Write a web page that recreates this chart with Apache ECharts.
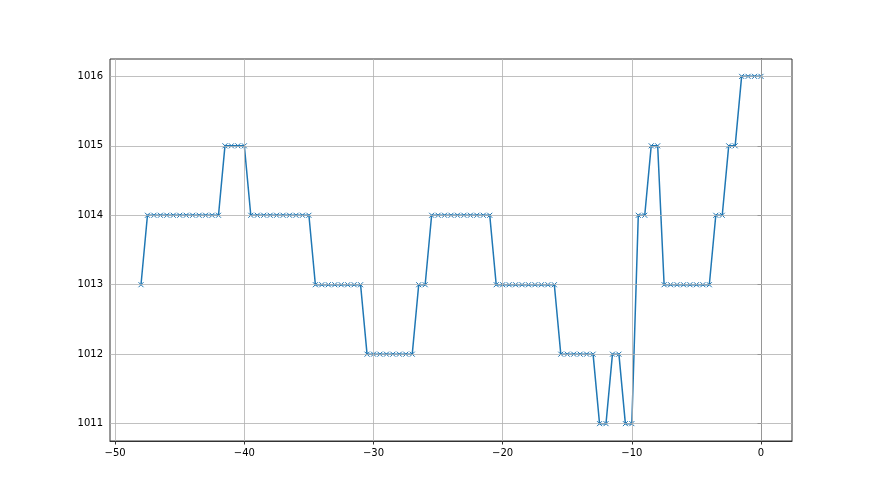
<!DOCTYPE html>
<html>
<head>
<meta charset="utf-8">
<script src="https://cdn.jsdelivr.net/npm/echarts@6/dist/echarts.min.js"></script>
<style>html,body{margin:0;padding:0;background:#fff}#c{width:880px;height:495px}</style>
</head>
<body>
<div id="c"></div>
<script>
// x positions: -48 to 0 in steps of 0.5
const xValues = [];
for (let i = 0; i <= 96; i++) xValues.push(-48 + i * 0.5);
const pressure = [
  1013,
  1014,1014,1014,1014,1014,1014,1014,1014,1014,1014,1014,1014,
  1015,1015,1015,1015,
  1014,1014,1014,1014,1014,1014,1014,1014,1014,1014,
  1013,1013,1013,1013,1013,1013,1013,1013,
  1012,1012,1012,1012,1012,1012,1012,1012,
  1013,1013,
  1014,1014,1014,1014,1014,1014,1014,1014,1014,1014,
  1013,1013,1013,1013,1013,1013,1013,1013,1013,1013,
  1012,1012,1012,1012,1012,1012,
  1011,1011,
  1012,1012,
  1011,1011,
  1014,1014,
  1015,1015,
  1013,1013,1013,1013,1013,1013,1013,1013,
  1014,1014,
  1015,1015,
  1016,1016,1016,1016
];
const xTicks = [-50, -40, -30, -20, -10, 0];
const yTicks = [1011, 1012, 1013, 1014, 1015, 1016];

const data = xValues.map((x, i) => [x, pressure[i]]);
const fmt = v => String(v).replace('-', '\u2212');
const font = { fontFamily: 'DejaVu Sans', fontSize: 10, color: '#000' };

const chart = echarts.init(document.getElementById('c'));
chart.setOption({
  animation: false,
  backgroundColor: '#fff',
  grid: { left: 110, right: 88, top: 59, bottom: 54, show: true, borderColor: '#333', borderWidth: 1, backgroundColor: 'transparent' },
  xAxis: {
    type: 'value', min: -50.4, max: 2.4,
    axisLine: { show: true, lineStyle: { color: '#333', width: 1 } },
    axisTick: { show: true, inside: false, length: 3.5, customValues: xTicks, lineStyle: { color: '#333' } },
    axisLabel: { ...font, margin: 7, customValues: xTicks, formatter: fmt },
    splitLine: { show: false }
  },
  yAxis: {
    type: 'value', min: 1010.75, max: 1016.25,
    axisLine: { show: true, lineStyle: { color: '#333', width: 1 } },
    axisTick: { show: true, inside: false, length: 3.5, customValues: yTicks, lineStyle: { color: '#333' } },
    axisLabel: { ...font, margin: 7, customValues: yTicks, formatter: fmt },
    splitLine: { show: false }
  },
  series: [
    {
      type: 'line',
      data: data,
      symbol: 'path://M0,0L10,10M10,0L0,10',
      symbolSize: 5,
      showAllSymbol: true,
      lineStyle: { color: '#1f77b4', width: 1.5 },
      itemStyle: { color: '#1f77b4', borderColor: '#1f77b4', borderWidth: 1 },
      z: 3
    },
    {
      type: 'line', data: [], silent: true,
      markLine: {
        silent: true, symbol: 'none', label: { show: false }, animation: false,
        lineStyle: { color: '#b0b0b0', width: 0.8, type: 'solid' },
        data: xTicks.map(v => ({ xAxis: v })).concat(yTicks.map(v => ({ yAxis: v })))
      },
      z: 1
    }
  ]
});
</script>
</body>
</html>
